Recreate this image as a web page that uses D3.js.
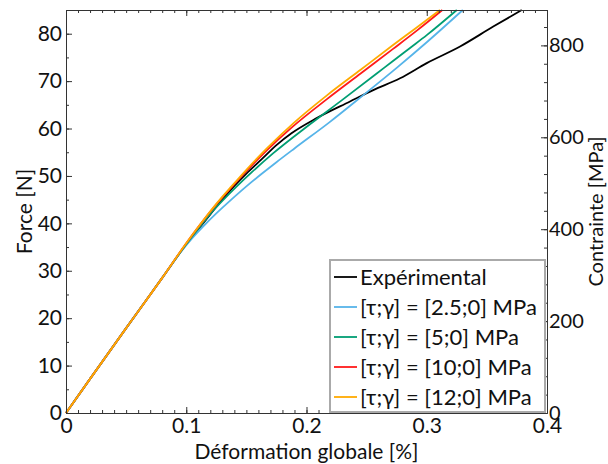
<!DOCTYPE html>
<html><head><meta charset="utf-8">
<script src="https://cdn.jsdelivr.net/npm/d3@7"></script>
<style>
html,body{margin:0;padding:0;background:#fff;}
svg text{font-family:Lato,"DejaVu Sans",sans-serif;fill:#111;}
</style></head>
<body><svg id="chart" width="608" height="464"></svg>
<script>
// ---- data ----
const seriesNames = ["Expérimental","[τ;γ] = [2.5;0] MPa","[τ;γ] = [5;0] MPa","[τ;γ] = [10;0] MPa","[τ;γ] = [12;0] MPa"];
const seriesColors = ["#000000","#56B4E9","#009E73","#FF1A1A","#FFAA00"];
const expX = [0,0.02,0.05,0.08,0.10,0.115,0.128,0.14,0.15,0.163,0.175,0.1875,0.2085,0.2362,0.2555,0.2778,0.300,0.3277,0.3553,0.379];
const expY = [0,7.2,17.9,28.5,35.6,40.3,44.4,47.9,50.5,53.6,56.5,59.0,62.2,65.7,68.1,70.6,73.8,77.3,81.5,85];
const s25X = [0,0.02,0.05,0.08,0.095,0.105,0.115,0.125,0.137,0.15,0.162,0.175,0.19,0.219,0.247,0.275,0.30,0.33];
const s25Y = [0,7.2,17.9,28.5,33.8,36.9,39.6,42.1,44.9,47.8,50.3,52.9,55.8,61.3,67.0,72.8,78.2,85];
const s5X  = [0,0.02,0.05,0.08,0.10,0.11,0.12,0.131,0.142,0.155,0.1724,0.2029,0.2306,0.2584,0.2722,0.2861,0.30,0.325];
const s5Y  = [0,7.2,17.9,28.5,35.6,38.9,42.0,45.0,47.8,50.9,54.8,60.9,66.2,71.6,74.3,77.0,79.7,85];
const s10X = [0,0.02,0.05,0.08,0.10,0.112,0.125,0.138,0.15,0.167,0.189,0.217,0.245,0.272,0.292,0.313];
const s10Y = [0,7.2,17.9,28.5,35.8,39.9,44.0,47.7,51.0,55.4,60.5,66.2,71.6,76.8,80.7,85];
const s12X = [0,0.02,0.05,0.08,0.10,0.112,0.125,0.138,0.15,0.167,0.189,0.217,0.245,0.272,0.29,0.311];
const s12Y = [0,7.2,17.9,28.5,35.8,39.9,44.1,47.9,51.3,55.8,61.1,67.0,72.4,77.6,81.0,85];
const xTicks = [0,0.1,0.2,0.3,0.4];
const yTicks = [0,10,20,30,40,50,60,70,80];
const y2Ticks = [0,200,400,600,800];

const seriesX = [expX,s25X,s5X,s10X,s12X];
const seriesY = [expY,s25Y,s5Y,s10Y,s12Y];

// ---- layout ----
const W=608,H=464;
const m={left:66,right:61,top:10,bottom:51};
const svg=d3.select("#chart");
const x=d3.scaleLinear().domain([0,0.4]).range([m.left,W-m.right]);
const y=d3.scaleLinear().domain([0,85]).range([H-m.bottom,m.top]);
const y2=d3.scaleLinear().domain([0,877]).range([H-m.bottom,m.top]);
const axisColor="#333";
const FS=21;

const g=svg.append("g");
const line=d3.line().x(d=>x(d[0])).y(d=>y(d[1])).curve(d3.curveMonotoneX);
seriesX.forEach((xs,i)=>{
  const pts=xs.map((v,j)=>[v,seriesY[i][j]]);
  g.append("path").datum(pts).attr("d",line).attr("fill","none")
   .attr("stroke",seriesColors[i]).attr("stroke-width",1.8).attr("stroke-linejoin","round");
});

function styleAxis(sel){
  sel.select(".domain").attr("stroke",axisColor).attr("stroke-width",1);
  sel.selectAll(".tick line").attr("stroke",axisColor);
  sel.selectAll("text").attr("font-size",FS).attr("fill","#111");
}
function minorStyle(s){s.select(".domain").remove();s.selectAll("line").attr("stroke",axisColor);}
const xMinor=d3.range(0,0.4001,0.01);
const yMinor=d3.range(0,85.01,5);
const y2Minor=d3.range(0,877,40);

const bx=svg.append("g").attr("transform",`translate(0,${H-m.bottom})`)
  .call(d3.axisBottom(x).tickValues(xTicks).tickSize(-6).tickPadding(5).tickFormat(d=>d===0?"0":d3.format(".1f")(d)));
styleAxis(bx);
svg.append("g").attr("transform",`translate(0,${H-m.bottom})`)
  .call(d3.axisBottom(x).tickValues(xMinor).tickSize(-3).tickFormat("")).call(minorStyle);
svg.append("g").attr("transform",`translate(0,${m.top})`)
  .call(d3.axisTop(x).tickValues(xTicks).tickSize(-6).tickFormat(""))
  .call(s=>{s.select(".domain").attr("stroke",axisColor);s.selectAll("line").attr("stroke",axisColor);});
svg.append("g").attr("transform",`translate(0,${m.top})`)
  .call(d3.axisTop(x).tickValues(xMinor).tickSize(-3).tickFormat("")).call(minorStyle);
const ly=svg.append("g").attr("transform",`translate(${m.left},0)`)
  .call(d3.axisLeft(y).tickValues(yTicks).tickSize(-6).tickPadding(4).tickFormat(d3.format("d")));
styleAxis(ly);
svg.append("g").attr("transform",`translate(${m.left},0)`)
  .call(d3.axisLeft(y).tickValues(yMinor).tickSize(-3).tickFormat("")).call(minorStyle);
const ry=svg.append("g").attr("transform",`translate(${W-m.right},0)`)
  .call(d3.axisRight(y2).tickValues(y2Ticks).tickSize(-6).tickPadding(2).tickFormat(d3.format("d")));
styleAxis(ry);
ry.selectAll("text").attr("font-size",20);
svg.append("g").attr("transform",`translate(${W-m.right},0)`)
  .call(d3.axisRight(y2).tickValues(y2Minor).tickSize(-3).tickFormat("")).call(minorStyle);

svg.append("text").attr("x",(m.left+W-m.right)/2).attr("y",459).attr("text-anchor","middle")
  .attr("font-size",FS).text("Déformation globale [%]");
svg.append("text").attr("transform",`translate(32,${(m.top+H-m.bottom)/2}) rotate(-90)`)
  .attr("text-anchor","middle").attr("font-size",FS).text("Force [N]");
svg.append("text").attr("transform",`translate(603,${(m.top+H-m.bottom)/2}) rotate(-90)`)
  .attr("text-anchor","middle").attr("font-size",20).text("Contrainte [MPa]");

const lg=svg.append("g");
const lx0=330, ly0=260, lw=215, lh=152;
lg.append("rect").attr("x",lx0).attr("y",ly0).attr("width",lw).attr("height",lh)
  .attr("fill","#fff").attr("stroke","#aaa").attr("stroke-width",2);
seriesNames.forEach((nm,i)=>{
  const yy=ly0+17+i*30;
  lg.append("line").attr("x1",lx0+4).attr("x2",lx0+27).attr("y1",yy).attr("y2",yy)
    .attr("stroke",seriesColors[i]).attr("stroke-width",1.8);
  lg.append("text").attr("x",lx0+30).attr("y",yy).attr("dy","0.35em").attr("font-size",22).text(nm);
});
</script></body></html>
